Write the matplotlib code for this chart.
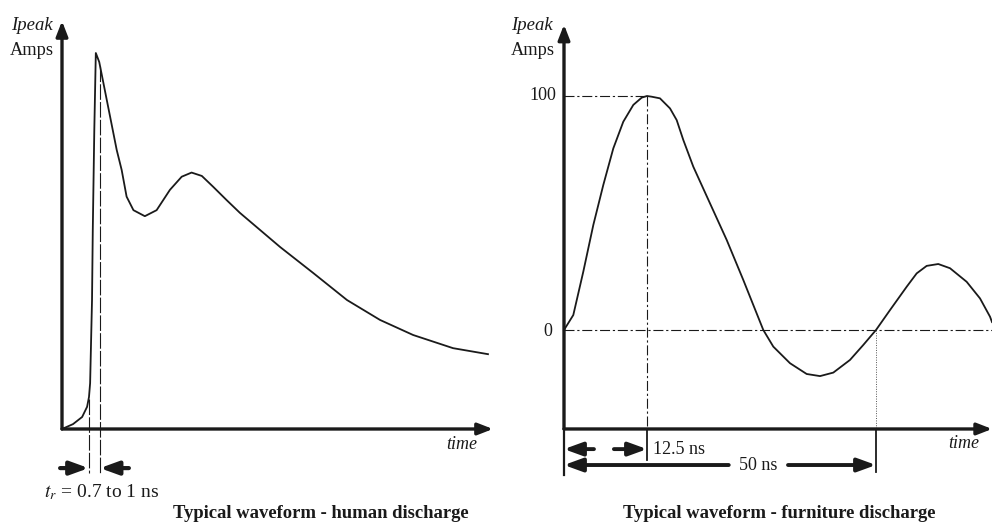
import numpy as np
import matplotlib
matplotlib.use('Agg')
import matplotlib.pyplot as plt

#%% ---------------- data ----------------
# human discharge (time in ns, current in % of peak)
human_t = [0.0, 0.29, 0.53, 0.66, 0.71, 0.74, 0.76, 0.79, 0.81, 0.85, 0.89, 0.98,
           1.44, 1.57, 1.70, 1.88, 2.18, 2.49, 2.84, 3.15, 3.41, 3.68, 3.98,
           4.33, 4.68, 5.74, 6.61, 7.50, 8.37, 9.24, 10.29, 11.21]
human_i = [0.0, 1.3, 3.2, 5.9, 8.5, 12.2, 21.0, 34.3, 52.9, 79.5, 100.0, 97.6,
           74.2, 68.9, 61.8, 58.2, 56.6, 58.2, 63.6, 67.1, 68.2, 67.3, 64.4,
           60.9, 57.5, 48.4, 41.5, 34.3, 29.0, 25.0, 21.5, 19.9]
rise_times = [0.7, 1.0]

# furniture discharge (time in ns, current in A)
furn_t = [0.0, 1.49, 3.09, 4.70, 6.30, 7.90, 9.50, 11.11, 12.45, 13.30, 14.05,
          15.38, 16.99, 18.06, 19.12, 20.72, 23.40, 26.07, 28.73, 31.94,
          33.54, 36.22, 38.89, 41.03, 43.16, 45.83, 47.96, 50.0, 52.24, 54.92,
          56.52, 58.12, 59.98, 61.86, 64.53, 66.67, 68.27, 68.59]
furn_i = [0.0, 6.4, 24.9, 44.9, 62.0, 77.6, 89.0, 96.2, 99.3, 100.0, 99.7,
          99.0, 94.7, 89.7, 81.2, 69.8, 54.1, 38.5, 21.4, 0.0,
          -7.1, -14.2, -18.8, -19.7, -18.2, -12.8, -6.4, 0.0, 8.5, 18.5,
          24.2, 27.4, 28.2, 26.4, 20.6, 13.5, 5.7, 3.4]
furn_peak = 100
furn_marks = [12.5, 50.0]
furn_labels = ['12.5 ns', '50 ns']

W, H = 992, 524
plt.rcParams['font.family'] = ['Liberation Serif', 'DejaVu Serif']
plt.rcParams['mathtext.fontset'] = 'stix'
ink = '#1a1a1a'

fig = plt.figure(figsize=(W / 100, H / 100), dpi=100)


def panel(box, x0, sx, y0, sy):
    # box in pixels (left, right, top, bottom); x0/y0 pixel of data origin
    l, r, t, b = box
    ax = fig.add_axes([l / W, 1 - b / H, (r - l) / W, (b - t) / H])
    ax.set_xlim((l - x0) / sx, (r - x0) / sx)
    ax.set_ylim((y0 - b) / sy, (y0 - t) / sy)
    ax.axis('off')
    return ax


def arrow(ax, start, end, lw=2.2, hl=0.9, hw=0.35):
    ax.annotate('', xy=end, xytext=start,
                arrowprops=dict(arrowstyle=f'-|>,head_length={hl},head_width={hw}',
                                lw=lw, color=ink, shrinkA=0, shrinkB=0))


dashdot = (0, (9, 2.5, 2, 2.5))

#%% ---------------- left: human ----------------
ax1 = panel((0, 496, 0, 524), 62, 38.0, 429, 3.76)
t_end, i_top = 11.34, 108.5
arrow(ax1, (0, 0), (t_end, 0), lw=2.4)
arrow(ax1, (0, 0), (0, i_top), lw=2.4)
ax1.plot(human_t, human_i, color=ink, lw=1.3, solid_joinstyle='round')

for tr in rise_times:
    top = np.interp(tr, human_t, human_i)
    ax1.plot([tr, tr], [top, -11.7], color=ink, lw=0.8, ls=(0, (14, 2)))
arrow(ax1, (-0.05, -10.4), (rise_times[0], -10.4), lw=3.0, hl=1.1, hw=0.4)
arrow(ax1, (1.76, -10.4), (rise_times[1], -10.4), lw=3.0, hl=1.1, hw=0.4)

ax1.text(-0.25, 107.3, 'Ipeak', ha='right', va='center', fontsize=13.5, style='italic', color=ink)
ax1.text(-0.22, 100.6, 'Amps', ha='right', va='center', fontsize=13.2, color=ink)
ax1.text(10.92, -4.0, 'time', ha='right', va='center', fontsize=13, style='italic', color=ink)
ax1.text(1.03, -16.8, r'$t_r$ = 0.7 to 1 ns', ha='center', va='center', fontsize=14, color=ink)

#%% ---------------- right: furniture ----------------
ax2 = panel((496, 992, 0, 524), 564, 6.24, 330, 2.34)
axis_y = -42.3
t_pk = furn_t[int(np.argmax(furn_i))]
t_50 = furn_marks[1]
arrow(ax2, (0, axis_y), (68.6, axis_y), lw=2.4)
arrow(ax2, (0, axis_y), (0, 130.5), lw=2.4)

ax2.plot([0, t_pk], [furn_peak, furn_peak], color=ink, lw=0.8, ls=dashdot)
ax2.plot([t_pk, t_pk], [furn_peak, axis_y], color=ink, lw=0.8, ls=dashdot)
ax2.plot([0, 68.6], [0, 0], color=ink, lw=0.8, ls=dashdot)
ax2.plot([t_50, t_50], [0, axis_y], color='#555555', lw=0.7, ls=(0, (1, 1.5)))
ax2.plot(furn_t, furn_i, color=ink, lw=1.3, solid_joinstyle='round')

# dimension lines
ax2.plot([0, 0], [axis_y, -62], color=ink, lw=1.6)
ax2.plot([t_pk, t_pk], [axis_y, -55.6], color=ink, lw=1.3)
ax2.plot([t_50, t_50], [axis_y, -60.7], color=ink, lw=1.3)
arrow(ax2, (4.8, -50.9), (0, -50.9), lw=2.8, hl=1.1, hw=0.4)
arrow(ax2, (8.0, -50.9), (t_pk, -50.9), lw=2.8, hl=1.1, hw=0.4)
arrow(ax2, (26.4, -57.7), (0, -57.7), lw=2.8, hl=1.1, hw=0.4)
arrow(ax2, (35.9, -57.7), (t_50, -57.7), lw=2.8, hl=1.1, hw=0.4)
ax2.text(14.3, -50.9, furn_labels[0], ha='left', va='center', fontsize=13, color=ink)
ax2.text(31.1, -57.7, furn_labels[1], ha='center', va='center', fontsize=13, color=ink)

ax2.text(-1.76, 130.0, 'Ipeak', ha='right', va='center', fontsize=13.5, style='italic', color=ink)
ax2.text(-1.44, 119.5, 'Amps', ha='right', va='center', fontsize=13.2, color=ink)
ax2.text(-1.28, 100, '100', ha='right', va='center', fontsize=13, color=ink)
ax2.text(-1.9, -0.5, '0', ha='right', va='center', fontsize=13, color=ink)
ax2.text(66.5, -48.7, 'time', ha='right', va='center', fontsize=13, style='italic', color=ink)

#%% ---------------- titles ----------------
fig.text(321 / W, 1 - 514 / H, 'Typical waveform - human discharge',
         ha='center', va='center', fontsize=13.4, fontweight='bold', color=ink)
fig.text(779 / W, 1 - 514 / H, 'Typical waveform - furniture discharge',
         ha='center', va='center', fontsize=13.4, fontweight='bold', color=ink)

fig.savefig('out.png', dpi=100)
